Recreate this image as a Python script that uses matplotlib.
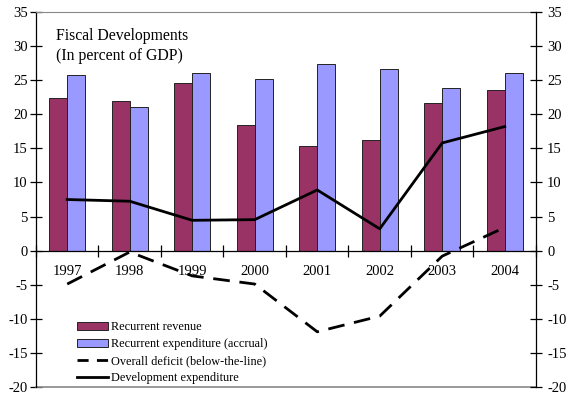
import matplotlib
matplotlib.use("Agg")
import matplotlib.pyplot as plt
from matplotlib.patches import Patch
from matplotlib.lines import Line2D
import numpy as np

plt.rcParams['font.family'] = ['Liberation Serif', 'DejaVu Serif']
plt.rcParams['axes.unicode_minus'] = False

years = ["1997", "1998", "1999", "2000", "2001", "2002", "2003", "2004"]
recurrent_revenue = [22.4, 22.0, 24.6, 18.4, 15.4, 16.2, 21.6, 23.6]
recurrent_expenditure = [25.8, 21.1, 26.1, 25.2, 27.4, 26.6, 23.9, 26.1]
overall_deficit = [-4.9, -0.2, -3.7, -4.9, -11.9, -9.6, -0.8, 3.4]
development_exp = [7.5, 7.25, 4.45, 4.55, 8.9, 3.2, 15.8, 18.2]

rev_color = "#993366"
exp_color = "#9999FF"

fig = plt.figure(figsize=(5.71, 3.98), dpi=100)
ax = fig.add_axes([0.063, 0.0276, 0.8757, 0.9422])

x = np.arange(len(years))
w = 0.288
ax.bar(x - w / 2, recurrent_revenue, w, color=rev_color, edgecolor="#222222", linewidth=0.7, zorder=2)
ax.bar(x + w / 2, recurrent_expenditure, w, color=exp_color, edgecolor="#222222", linewidth=0.7, zorder=2)
ax.plot(x, overall_deficit, color="black", lw=2, dashes=(6, 3.5), zorder=3)
ax.plot(x, development_exp, color="black", lw=2, zorder=3)

ax.set_xlim(-0.5, len(years) - 0.5)
ax.set_ylim(-20, 35)
ax.set_yticks(np.arange(-20, 36, 5))

# category axis sits on the zero line
ax.spines['bottom'].set_position(('data', 0))
ax.spines['bottom'].set_linewidth(0.9)
ax.set_xticks(np.arange(-0.5, len(years), 1.0))
ax.set_xticklabels([])
ax.set_xticks(x, minor=True)
ax.set_xticklabels(years, minor=True)
ax.tick_params(axis='x', which='major', direction='inout', length=9, width=0.9)
ax.tick_params(axis='x', which='minor', length=0, pad=10, labelsize=10.5)
ax.axhline(-20, color="#888888", lw=1.2, clip_on=False)
ax.spines['top'].set_color("#888888")
ax.spines['left'].set_linewidth(0.9)
ax.spines['right'].set_visible(False)
ax.tick_params(axis='y', direction='inout', length=8, width=0.9, labelsize=10.5, pad=2)

ax2 = ax.twinx()
ax2.set_ylim(-20, 35)
ax2.set_yticks(np.arange(-20, 36, 5))
ax2.spines['right'].set_linewidth(0.9)
ax2.spines['top'].set_visible(False)
ax2.spines['bottom'].set_visible(False)
ax2.spines['left'].set_visible(False)
ax2.tick_params(axis='y', direction='inout', length=8, width=0.9, labelsize=10.5, pad=4)

ax.text(0.041, 0.957, "Fiscal Developments\n(In percent of GDP)", transform=ax.transAxes,
        ha="left", va="top", fontsize=11.3, linespacing=1.3)

handles = [
    Patch(facecolor=rev_color, edgecolor="#222222", linewidth=0.7),
    Patch(facecolor=exp_color, edgecolor="#222222", linewidth=0.7),
    Line2D([], [], color="black", lw=2, dashes=(4, 3)),
    Line2D([], [], color="black", lw=2),
]
labels = ["Recurrent revenue", "Recurrent expenditure (accrual)",
          "Overall deficit (below-the-line)", "Development expenditure"]
ax.legend(handles, labels, loc="upper left", bbox_to_anchor=(0.082, 0.176),
          frameon=False, fontsize=8.8, borderpad=0, borderaxespad=0,
          handlelength=2.5, handleheight=0.6, handletextpad=0.25, labelspacing=0.42)

fig.savefig("out.png", dpi=100)
